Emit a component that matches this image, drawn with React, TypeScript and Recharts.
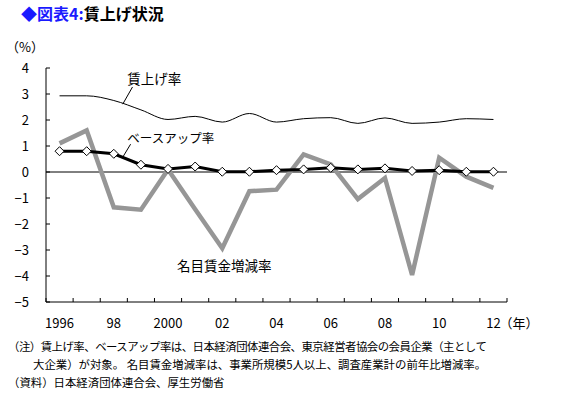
import React from 'react';
import { LineChart, Line, XAxis, YAxis, ReferenceLine, ReferenceDot } from 'recharts';

const years = [1996, 1997, 1998, 1999, 2000, 2001, 2002, 2003, 2004, 2005, 2006, 2007, 2008, 2009, 2010, 2011, 2012];
const wageIncrease = [2.93, 2.93, 2.75, 2.39, 2.02, 2.14, 1.92, 2.25, 1.92, 2.05, 2.09, 1.87, 2.08, 1.87, 1.92, 2.05, 2.02];
const baseUp = [0.8, 0.8, 0.7, 0.28, 0.12, 0.21, 0.01, 0.01, 0.07, 0.1, 0.16, 0.1, 0.14, 0.04, 0.07, 0.01, 0.01];
const nominalWage = [1.1, 1.6, -1.36, -1.45, 0.1, -1.43, -2.93, -0.74, -0.68, 0.68, 0.29, -1.04, -0.23, -3.96, 0.55, -0.18, -0.61];

const xTickYears = [1996, 1998, 2000, 2002, 2004, 2006, 2008, 2010, 2012];
const xTickLabels = ['1996', '98', '2000', '02', '04', '06', '08', '10', '12'];
const xBoundaries = [1995.5, 1996.5, 1997.5, 1998.5, 1999.5, 2000.5, 2001.5, 2002.5, 2003.5, 2004.5, 2005.5, 2006.5, 2007.5, 2008.5, 2009.5, 2010.5, 2011.5, 2012.5];
const yTicks = [-5, -4, -3, -2, -1, 0, 1, 2, 3, 4];

const data = years.map((y, i) => ({
  year: y,
  wage: wageIncrease[i],
  base: baseUp[i],
  nominal: nominalWage[i],
}));

const FONT = '"Noto Sans CJK JP", "Noto Sans", sans-serif';

const XTick = (props: any) => {
  const { x, y, payload } = props;
  const idx = xTickYears.indexOf(payload.value);
  const label = idx >= 0 ? xTickLabels[idx] : '';
  return (
    <g>
      <text x={x} y={y + 26} textAnchor="middle" fontSize={13} fontFamily={FONT} fill="#000">
        {label}
      </text>
      {payload.value === 2012 && (
        <text x={x + 6} y={y + 26} textAnchor="start" fontSize={13} fontFamily={FONT} fill="#000">
          （年）
        </text>
      )}
    </g>
  );
};

const BoundaryTick = (props: any) => {
  const { x, y } = props;
  return <line x1={x} x2={x} y1={y} y2={y - 4} stroke="#000" strokeWidth={1} />;
};

const YTick = (props: any) => {
  const { x, y, payload } = props;
  const v = payload.value;
  const label = v < 0 ? '−' + Math.abs(v) : String(v);
  return (
    <g>
      <line x1={x} x2={x + 4} y1={y} y2={y} stroke="#000" strokeWidth={1} />
      <text x={x - 17} y={y + 5} textAnchor="end" fontSize={13} fontFamily={FONT} fill="#000">
        {label}
      </text>
    </g>
  );
};

const Diamond = (props: any) => {
  const { cx, cy } = props;
  if (cx == null || cy == null) return null;
  return (
    <polygon
      points={`${cx},${cy - 4.5} ${cx + 4.5},${cy} ${cx},${cy + 4.5} ${cx - 4.5},${cy}`}
      fill="#fff"
      stroke="#000"
      strokeWidth={1}
    />
  );
};

const labelStyle = { fontSize: 13.5, fill: '#000', fontFamily: FONT };

export default function App() {
  return (
    <div style={{ position: 'absolute', left: 0, top: 0, width: 570, height: 396, background: '#fff', fontFamily: FONT }}>
      <div style={{ position: 'absolute', left: 21, top: 2, fontSize: 16, fontWeight: 'bold', lineHeight: '22px', whiteSpace: 'nowrap' }}>
        <span style={{ color: '#1a1aff' }}>◆図表4:</span>
        <span style={{ color: '#000' }}>賃上げ状況</span>
      </div>
      <div style={{ position: 'absolute', left: 6, top: 38, fontSize: 13, lineHeight: '18px', color: '#000', whiteSpace: 'nowrap' }}>
        （%）
      </div>
      <div style={{ position: 'absolute', left: 0, top: 0 }}>
        <LineChart width={570} height={340} data={data} margin={{ top: 68, right: 63, left: 0, bottom: 8 }}>
          <XAxis
            xAxisId="ticks"
            dataKey="year"
            type="number"
            domain={[1995.5, 2012.5]}
            ticks={xBoundaries}
            interval={0}
            mirror
            tickSize={0}
            tickMargin={0}
            tickLine={false}
            tick={<BoundaryTick />}
            axisLine={{ stroke: '#000' }}
          />
          <XAxis
            xAxisId="main"
            dataKey="year"
            type="number"
            domain={[1995.5, 2012.5]}
            ticks={xTickYears}
            interval={0}
            height={30}
            tickSize={0}
            tickMargin={0}
            axisLine={false}
            tickLine={false}
            tick={<XTick />}
          />
          <YAxis
            domain={[-5, 4]}
            ticks={yTicks}
            interval={0}
            width={46}
            tickSize={0}
            tickMargin={0}
            tickLine={false}
            axisLine={{ stroke: '#000' }}
            tick={<YTick />}
          />
          <ReferenceLine xAxisId="main" y={0} stroke="#000" strokeWidth={1} />
          <Line xAxisId="main" type="linear" dataKey="nominal" stroke="#969696" strokeWidth={4.5} dot={false} isAnimationActive={false} />
          <Line xAxisId="main" type="monotone" dataKey="wage" stroke="#000" strokeWidth={1} dot={false} isAnimationActive={false} />
          <Line xAxisId="main" type="linear" dataKey="base" stroke="#000" strokeWidth={3} dot={<Diamond />} isAnimationActive={false} />
          <ReferenceLine xAxisId="main" segment={[{ x: 1998.33, y: 2.61 }, { x: 1998.69, y: 3.27 }]} stroke="#000" strokeWidth={1} />
          <ReferenceLine xAxisId="main" segment={[{ x: 1998.33, y: 0.57 }, { x: 1998.62, y: 1.07 }]} stroke="#000" strokeWidth={1} />
          <ReferenceDot xAxisId="main" x={1999.49} y={3.57} r={0} fill="none" stroke="none" label={{ value: '賃上げ率', position: 'center', ...labelStyle }} />
          <ReferenceDot xAxisId="main" x={2000.1} y={1.3} r={0} fill="none" stroke="none" label={{ value: 'ベースアップ率', position: 'center', ...labelStyle, fontSize: 12.5 }} />
          <ReferenceDot xAxisId="main" x={2002.07} y={-3.64} r={0} fill="none" stroke="none" label={{ value: '名目賃金増減率', position: 'center', ...labelStyle }} />
        </LineChart>
      </div>
      <div style={{ position: 'absolute', left: 8, top: 337, fontSize: 11.4, lineHeight: '18px', color: '#000', whiteSpace: 'nowrap' }}>
        <div style={{ letterSpacing: -0.5 }}>（注）賃上げ率、ベースアップ率は、日本経済団体連合会、東京経営者協会の会員企業（主として</div>
        <div style={{ paddingLeft: 25 }}>大企業）が対象。 名目賃金増減率は、事業所規模5人以上、調査産業計の前年比増減率。</div>
        <div>（資料）日本経済団体連合会、厚生労働省</div>
      </div>
    </div>
  );
}
